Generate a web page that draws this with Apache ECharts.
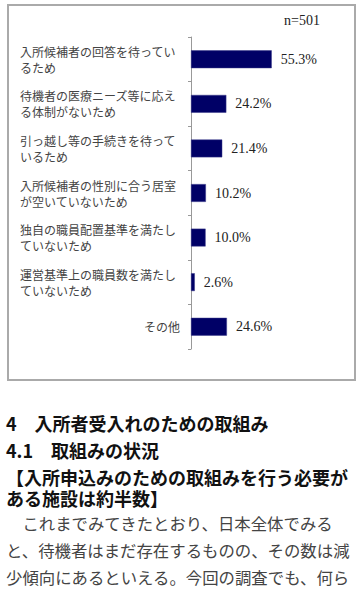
<!DOCTYPE html>
<html><head><meta charset="utf-8">
<script src="https://cdn.jsdelivr.net/npm/echarts@6/dist/echarts.min.js"></script>
<style>html,body{margin:0;padding:0;background:#fff}#c{width:356px;height:595px}</style>
</head><body><div id="c"></div>
<script>
var categories = [
  '入所候補者の回答を待ってい\nるため',
  '待機者の医療ニーズ等に応え\nる体制がないため',
  '引っ越し等の手続きを待って\nいるため',
  '入所候補者の性別に合う居室\nが空いていないため',
  '独自の職員配置基準を満たし\nていないため',
  '運営基準上の職員数を満たし\nていないため',
  'その他'
];
var values = [55.3, 24.2, 21.4, 10.2, 10.0, 2.6, 24.6];
var sampleNote = 'n=501';
var headingLines = ['4\u3000入所者受入れのための取組み', '4.1\u3000取組みの状況', '【入所申込みのための取組みを行う必要が\nある施設は約半数】'];
var bodyLines = ['\u3000これまでみてきたとおり、日本全体でみる', 'と、待機者はまだ存在するものの、その数は減', '少傾向にあるといえる。今回の調査でも、何ら'];

var JP = '"Noto Sans CJK JP", sans-serif';
var SERIF = '"Liberation Serif", "DejaVu Serif", serif';
var chart = echarts.init(document.getElementById('c'), null, {renderer: 'svg'});

var graphics = [
  {type: 'rect', shape: {x: 8, y: 5, width: 347, height: 375}, style: {fill: 'none', stroke: '#aaaaaa', lineWidth: 2}, z: 0},
  {type: 'text', x: 284, y: 20, style: {text: sampleNote, font: '14px ' + SERIF, fill: '#222', textVerticalAlign: 'middle'}}
];
var hy = [423, 450, 487];
headingLines.forEach(function (t, i) {
  graphics.push({type: 'text', x: 6, y: hy[i], style: {text: t, fontFamily: JP, fontWeight: 'bold', fontSize: 18, lineHeight: 21, fill: '#111', textVerticalAlign: 'middle'}});
});
var by = [523, 550, 577];
bodyLines.forEach(function (t, i) {
  graphics.push({type: 'text', x: 6, y: by[i], style: {text: t, fontFamily: JP, fontSize: 16.4, fill: '#444', textVerticalAlign: 'middle'}});
});

chart.setOption({
  animation: false,
  grid: {left: 191, top: 37, width: 146, height: 312, containLabel: false},
  xAxis: {type: 'value', min: 0, max: 100, show: false},
  yAxis: {
    type: 'category', data: categories, inverse: true,
    axisLine: {show: true, lineStyle: {color: '#999', width: 1}},
    axisTick: {show: true, length: 3, lineStyle: {color: '#999'}},
    axisLabel: {
      margin: 11, align: 'right', color: '#444', fontFamily: JP, fontSize: 12, lineHeight: 16,
      formatter: function (v) {
        if (v.indexOf('\n') < 0) return '{r|' + v + '}';
        return v.split('\n').map(function (s) { return '{l|' + s + '}'; }).join('\n');
      },
      rich: {
        l: {width: 160, align: 'left', fontFamily: JP, fontSize: 12, color: '#444', lineHeight: 16},
        r: {width: 160, align: 'right', fontFamily: JP, fontSize: 12, color: '#444', lineHeight: 16}
      }
    }
  },
  series: [{
    type: 'bar', data: values, barCategoryGap: '60%',
    itemStyle: {color: '#000066', borderColor: '#3a3a8a', borderWidth: 0.5},
    label: {show: true, position: 'right', distance: 9, fontFamily: SERIF, fontSize: 14, color: '#222',
      formatter: function (p) { return p.value.toFixed(1) + '%'; }}
  }],
  graphic: graphics
});
</script></body></html>
